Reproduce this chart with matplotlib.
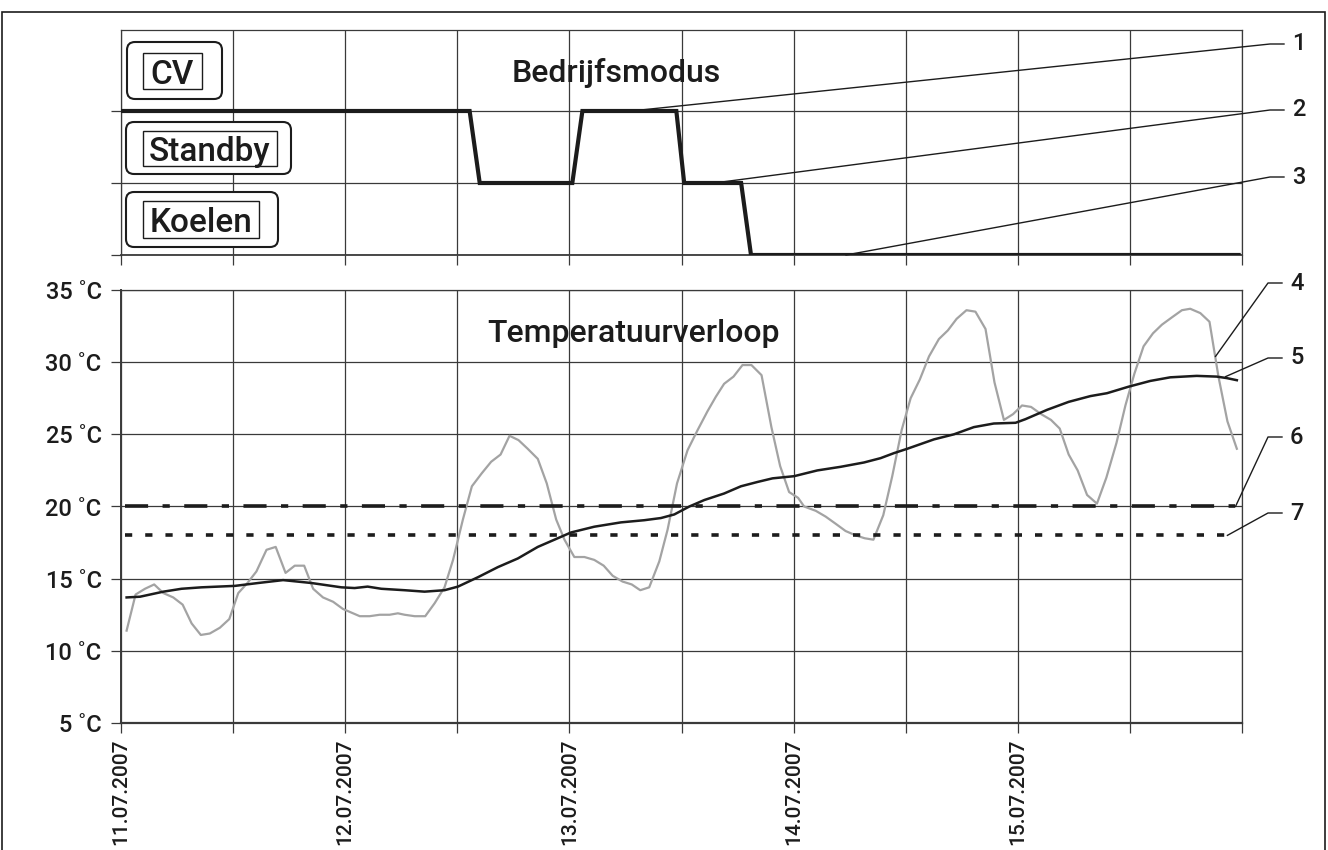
import matplotlib
matplotlib.use("Agg")
import matplotlib.pyplot as plt
from matplotlib.lines import Line2D
from matplotlib.patches import Rectangle, FancyBboxPatch
from matplotlib.transforms import IdentityTransform

plt.rcParams['font.family'] = ['Roboto', 'DejaVu Sans']
plt.rcParams['font.weight'] = 'medium'

# time axis: days after 11.07.2007 00:00
mode_days = [0.0, 1.555, 1.600, 2.013, 2.058, 2.477, 2.512, 2.766, 2.810, 4.985]
mode_level = [2, 2, 1, 1, 2, 2, 1, 1, 0, 0]  # 0 = Koelen, 1 = Standby, 2 = CV
mode_names = ['Koelen', 'Standby', 'CV']

# outdoor temperature (grey line, item 4)
outdoor_days = [0.025, 0.065, 0.107, 0.148, 0.189, 0.233, 0.275, 0.315, 0.356, 0.396,
                0.441, 0.483, 0.523, 0.564, 0.604, 0.649, 0.690, 0.734, 0.775, 0.817,
                0.857, 0.901, 0.946, 0.990, 1.065, 1.109, 1.154, 1.198, 1.235, 1.265,
                1.310, 1.357, 1.399, 1.443, 1.481, 1.525, 1.565, 1.609, 1.651, 1.693,
                1.733, 1.773, 1.814, 1.859, 1.899, 1.941, 1.978, 2.022, 2.067, 2.111,
                2.153, 2.193, 2.237, 2.278, 2.316, 2.356, 2.401, 2.438, 2.480, 2.527,
                2.572, 2.616, 2.653, 2.690, 2.732, 2.772, 2.812, 2.857, 2.901, 2.940,
                2.980, 3.020, 3.047, 3.099, 3.143, 3.188, 3.232, 3.277, 3.317, 3.356,
                3.400, 3.440, 3.482, 3.522, 3.563, 3.604, 3.648, 3.688, 3.727, 3.771,
                3.811, 3.856, 3.896, 3.938, 3.979, 4.019, 4.059, 4.104, 4.148, 4.187,
                4.227, 4.267, 4.309, 4.353, 4.395, 4.440, 4.480, 4.520, 4.561, 4.603,
                4.643, 4.687, 4.732, 4.769, 4.814, 4.855, 4.895, 4.935, 4.977]
outdoor_temp = [11.4, 13.9, 14.3, 14.6, 14.0, 13.7, 13.2, 11.9, 11.1, 11.2,
                11.6, 12.2, 14.0, 14.7, 15.5, 17.0, 17.2, 15.4, 15.9, 15.9,
                14.3, 13.7, 13.4, 12.9, 12.4, 12.4, 12.5, 12.5, 12.6, 12.5,
                12.4, 12.4, 13.3, 14.4, 16.3, 19.1, 21.4, 22.3, 23.1, 23.6,
                24.9, 24.6, 24.0, 23.3, 21.6, 19.1, 17.7, 16.5, 16.5, 16.3,
                15.9, 15.2, 14.8, 14.6, 14.2, 14.4, 16.2, 18.4, 21.6, 23.9,
                25.3, 26.6, 27.6, 28.5, 29.0, 29.8, 29.8, 29.1, 25.5, 22.8,
                21.0, 20.6, 20.0, 19.7, 19.3, 18.8, 18.3, 18.0, 17.8, 17.7,
                19.4, 22.1, 25.3, 27.5, 28.8, 30.4, 31.6, 32.2, 33.0, 33.6,
                33.5, 32.3, 28.6, 26.0, 26.4, 27.0, 26.9, 26.4, 26.0, 25.4,
                23.6, 22.5, 20.8, 20.2, 22.0, 24.4, 27.0, 29.2, 31.1, 32.0,
                32.6, 33.1, 33.6, 33.7, 33.4, 32.8, 29.0, 25.9, 24.0]

# room temperature (black line, item 5)
room_days = [0.025, 0.085, 0.189, 0.270, 0.359, 0.508, 0.612, 0.723, 0.849, 0.983,
             1.042, 1.100, 1.161, 1.265, 1.354, 1.443, 1.503, 1.592, 1.681, 1.770,
             1.859, 1.948, 2.007, 2.111, 2.230, 2.334, 2.408, 2.468, 2.535, 2.602,
             2.690, 2.765, 2.839, 2.906, 3.002, 3.106, 3.210, 3.314, 3.388, 3.448,
             3.507, 3.626, 3.715, 3.804, 3.893, 3.990, 4.034, 4.131, 4.227, 4.324,
             4.398, 4.494, 4.591, 4.680, 4.798, 4.887, 4.931, 4.977]
room_temp = [13.7, 13.75, 14.1, 14.3, 14.4, 14.5, 14.7, 14.9, 14.7, 14.4,
             14.35, 14.45, 14.3, 14.2, 14.1, 14.2, 14.45, 15.1, 15.8, 16.4,
             17.2, 17.8, 18.2, 18.6, 18.9, 19.05, 19.2, 19.45, 20.0, 20.45,
             20.9, 21.4, 21.7, 21.95, 22.1, 22.5, 22.75, 23.05, 23.35, 23.7,
             24.0, 24.65, 25.0, 25.5, 25.75, 25.8, 26.05, 26.7, 27.25, 27.65,
             27.85, 28.3, 28.7, 28.95, 29.05, 29.0, 28.9, 28.75]

# setpoint lines (items 6 and 7)
setpoint_6 = 20
setpoint_6_days = [0.02, 4.97]
setpoint_7 = 18
setpoint_7_days = [0.02, 4.94]

date_labels = ['11.07.2007', '12.07.2007', '13.07.2007', '14.07.2007', '15.07.2007']
temp_ticks = [5, 10, 15, 20, 25, 30, 35]

W, H = 1328, 850
fig = plt.figure(figsize=(W / 100, H / 100), dpi=100)


def px(x, y):
    # image pixel (top-left origin) -> display coords
    return x, H - y


ink = '#1c1c1c'
gridc = '#3a3a3a'

# --- top panel: operating mode ---
ax1 = fig.add_axes([121 / W, 1 - 255 / H, 1121 / W, 225 / H])
ax1.plot(mode_days, mode_level, color=ink, lw=3.0, solid_joinstyle='miter', zorder=3)
ax1.set_xlim(0, 5)
ax1.set_ylim(0, 3.125)
ax1.set_xticks([i * 0.5 for i in range(11)])
ax1.set_yticks([0, 1, 2])
ax1.set_xticklabels([])
ax1.set_yticklabels([])
ax1.grid(True, color=gridc, lw=0.9)
ax1.tick_params(direction='out', length=7, width=0.9, color=gridc)
for s in ax1.spines.values():
    s.set_color(gridc)
    s.set_linewidth(0.9)
ax1.spines['bottom'].set_linewidth(1.3)
ax1.text(0.442, 0.81, 'Bedrijfsmodus', transform=ax1.transAxes, ha='center', va='center',
         fontsize=23, color=ink)

# mode label boxes (outer rounded, inner square)
boxes = {
    'CV': ((127, 42, 222, 99), (143, 53, 202, 89)),
    'Standby': ((126, 122, 291, 174), (143, 131, 277, 166)),
    'Koelen': ((126, 192, 278, 247), (143, 201, 259, 238)),
}
for name in mode_names:
    (ox0, oy0, ox1, oy1), (ix0, iy0, ix1, iy1) = boxes[name]
    x0, y0 = px(ox0, oy1)
    fig.add_artist(FancyBboxPatch((x0, y0), ox1 - ox0, oy1 - oy0,
                                  boxstyle='round,pad=0,rounding_size=8',
                                  transform=IdentityTransform(), fc='white',
                                  ec=ink, lw=1.5, zorder=4))
    x0, y0 = px(ix0, iy1)
    fig.add_artist(Rectangle((x0, y0), ix1 - ix0, iy1 - iy0, transform=IdentityTransform(),
                             fc='none', ec=ink, lw=1.0, zorder=5))
    cx, cy = px((ix0 + ix1) / 2, (iy0 + iy1) / 2)
    fig.text(cx / W, cy / H, name, ha='center', va='center_baseline', fontsize=24,
             color=ink, zorder=6)

# --- bottom panel: temperatures ---
ax2 = fig.add_axes([121 / W, 1 - 723 / H, 1121 / W, 433 / H])
ax2.plot(outdoor_days, outdoor_temp, color='#a3a3a3', lw=1.6, zorder=3)
ax2.plot(room_days, room_temp, color=ink, lw=1.8, zorder=4)
ax2.plot(setpoint_6_days, [setpoint_6] * 2, color=ink, lw=2.6,
         dashes=(6.4, 4.0, 2.0, 4.0), zorder=5)
ax2.plot(setpoint_7_days, [setpoint_7] * 2, color=ink, lw=2.6,
         dashes=(2.0, 3.6), zorder=5)
ax2.set_xlim(0, 5)
ax2.set_ylim(5, 35)
ax2.set_yticks(temp_ticks)
ax2.set_yticklabels([f'{t} \u02daC' for t in temp_ticks], fontsize=17, color=ink)
ax2.set_xticks([i * 0.5 for i in range(11)])
xlabels = []
for i in range(11):
    xlabels.append(date_labels[i // 2] if i % 2 == 0 and i // 2 < len(date_labels) else '')
ax2.set_xticklabels(xlabels, rotation=90, fontsize=15, color=ink, va='top', ha='center')
ax2.grid(True, color=gridc, lw=0.9)
ax2.tick_params(direction='out', length=7, width=0.9, color=gridc)
ax2.tick_params(axis='y', pad=7)
ax2.tick_params(axis='x', pad=4)
for s in ax2.spines.values():
    s.set_color(gridc)
    s.set_linewidth(0.9)
ax2.spines['bottom'].set_linewidth(1.6)
ax2.spines['left'].set_linewidth(1.4)
ax2.text(0.457, 0.90, 'Temperatuurverloop', transform=ax2.transAxes, ha='center',
         va='center', fontsize=23, color=ink)

# --- leader lines with item numbers ---
leaders = [
    (ax1, (2.276, 2), (1270, 44), '1'),
    (ax1, (2.646, 1), (1270, 110), '2'),
    (ax1, (3.234, 0), (1270, 177), '3'),
    (ax2, (4.882, 30.4), (1268, 283), '4'),
    (ax2, (4.927, 29.0), (1268, 358), '5'),
    (ax2, (4.971, setpoint_6), (1268, 437), '6'),
    (ax2, (4.935, setpoint_7), (1268, 513), '7'),
]
for ax, pt, (kx, ky), lab in leaders:
    sx, sy = ax.transData.transform(pt)
    kx, ky = px(kx, ky)
    fig.add_artist(Line2D([sx, kx, kx + 14], [sy, ky, ky], transform=IdentityTransform(),
                          color=ink, lw=1.0, zorder=7))
    fig.text((kx + 22) / W, ky / H, lab, ha='left', va='center', fontsize=17, color=ink)

# outer frame
fig.add_artist(Rectangle((0.0015, -0.1), 0.996, 1.1 - 12 / H, transform=fig.transFigure,
                         fc='none', ec=ink, lw=1.2))

fig.savefig('out.png', dpi=100)
